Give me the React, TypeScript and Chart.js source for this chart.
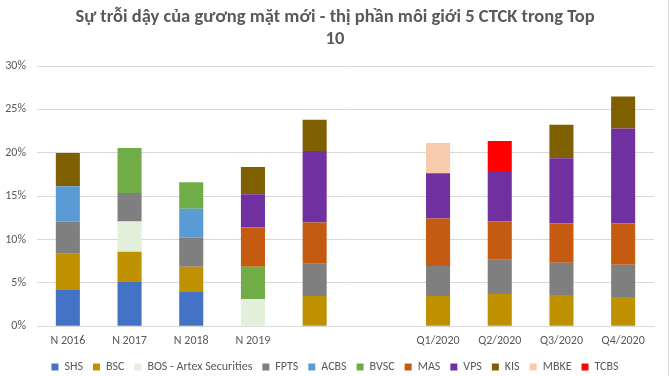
import React, { useEffect, useRef } from "react";
import { Chart, registerables } from "chart.js";

Chart.register(...registerables);

const categories = ["N 2016", "N 2017", "N 2018", "N 2019", "", "", "Q1/2020", "Q2/2020", "Q3/2020", "Q4/2020"];
const yTicks = [0, 5, 10, 15, 20, 25, 30];

const shs = [4.18, 5.11, 3.95, null, null, null, null, null, null, null];
const bsc = [4.18, 3.48, 2.9, null, 3.48, null, 3.48, 3.72, 3.6, 3.37];
const bos = [null, 3.49, null, 3.14, null, null, null, null, null, null];
const fpts = [3.72, 3.29, 3.37, null, 3.72, null, 3.48, 3.95, 3.72, 3.71];
const acbs = [4.06, null, 3.33, null, null, null, null, null, null, null];
const bvsc = [null, 5.19, 3.06, 3.71, null, null, null, null, null, null];
const mas = [null, null, null, 4.53, 4.76, null, 5.46, 4.41, 4.53, 4.77];
const vps = [null, null, null, 3.83, 8.25, null, 5.22, 5.81, 7.51, 10.95];
const kis = [3.84, null, null, 3.14, 3.6, null, null, null, 3.87, 3.68];
const mbke = [null, null, null, null, null, null, 3.48, null, null, null];
const tcbs = [null, null, null, null, null, null, null, 3.48, null, null];

const seriesNames = ["SHS", "BSC", "BOS - Artex Securities", "FPTS", "ACBS", "BVSC", "MAS", "VPS", "KIS", "MBKE", "TCBS"];
const seriesValues = [shs, bsc, bos, fpts, acbs, bvsc, mas, vps, kis, mbke, tcbs];
const seriesColors = ["#4472C4", "#BF9000", "#E2EFDA", "#7F7F7F", "#5B9BD5", "#70AD47", "#C55A11", "#7030A0", "#7F6000", "#F8CBAD", "#FF0000"];

const titleLines = ["Sự trỗi dậy của gương mặt mới - thị phần môi giới 5 CTCK trong Top", "10"];

const FONT = "Carlito, Calibri, 'Liberation Sans', sans-serif";

export default function App() {
  const ref = useRef<HTMLCanvasElement | null>(null);
  useEffect(() => {
    if (!ref.current) return;
    const borderPlugin = {
      id: "frameRight",
      afterDraw(chart: any) {
        const ctx = chart.ctx;
        ctx.save();
        ctx.strokeStyle = "#D9D9D9";
        ctx.lineWidth = 1;
        ctx.beginPath();
        ctx.moveTo(chart.width - 1.5, 0);
        ctx.lineTo(chart.width - 1.5, chart.height);
        ctx.stroke();
        ctx.restore();
      },
    };
    const chart = new Chart(ref.current, {
      type: "bar",
      data: {
        labels: categories,
        datasets: seriesNames.map((name, i) => ({
          label: name,
          data: seriesValues[i],
          backgroundColor: seriesColors[i],
          borderWidth: 0,
          barPercentage: 0.39,
          categoryPercentage: 1,
        })),
      },
      options: {
        animation: false,
        responsive: false,
        layout: { padding: { left: 5, right: 5, top: 6, bottom: -7 } },
        plugins: {
          title: {
            display: true,
            text: titleLines,
            color: "#595959",
            font: { family: FONT, size: 18.5, weight: "bold", lineHeight: "22px" },
            padding: { top: 0, bottom: 16 },
          },
          legend: {
            position: "bottom",
            labels: {
              boxWidth: 7,
              boxHeight: 7,
              color: "#595959",
              font: { family: FONT, size: 12 },
              padding: 10,
            },
          },
          tooltip: { enabled: false },
        },
        scales: {
          x: {
            stacked: true,
            grid: { display: false, drawTicks: false },
            border: { color: "#D9D9D9" },
            ticks: { color: "#595959", font: { family: FONT, size: 12 }, maxRotation: 0, autoSkip: false, padding: 7 },
            afterFit: (scale: any) => {
              scale.height = 24.7;
            },
          },
          y: {
            stacked: true,
            min: 0,
            max: 30,
            afterBuildTicks: (axis: any) => {
              axis.ticks = yTicks.map((v) => ({ value: v }));
            },
            afterFit: (scale: any) => {
              scale.width = 32;
            },
            grid: { color: "#D9D9D9", drawTicks: false },
            border: { display: false },
            ticks: {
              color: "#595959",
              font: { family: FONT, size: 12 },
              padding: 11,
              callback: (v: any) => v + "%",
            },
          },
          yRight: {
            position: "right",
            display: true,
            grid: { display: false, drawTicks: false },
            border: { display: false },
            ticks: { display: false },
            afterFit: (scale: any) => {
              scale.width = 11;
            },
          },
        },
      },
      plugins: [borderPlugin],
    });
    return () => chart.destroy();
  }, []);
  return (
    <div style={{ position: "absolute", left: 0, top: 0, width: 670, height: 376, background: "#fff" }}>
      <canvas ref={ref} width={670} height={376} />
    </div>
  );
}
